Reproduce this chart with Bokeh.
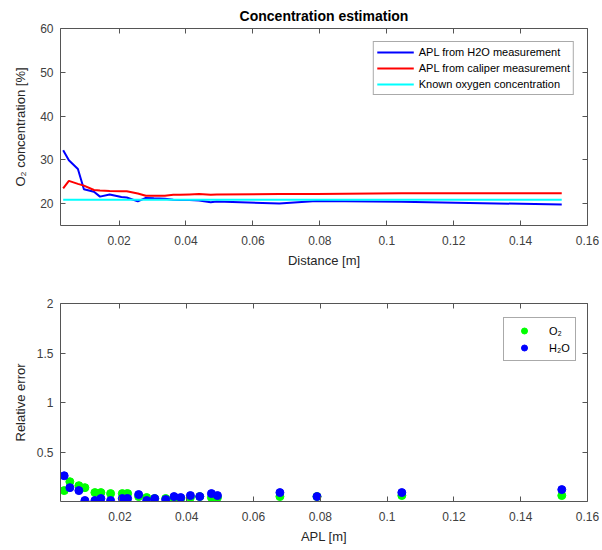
from bokeh.plotting import figure
from bokeh.layouts import column
from bokeh.models import LinearAxis, FixedTicker, Range1d, Legend, LegendItem, Title
from bokeh.embed import file_html
from bokeh.resources import INLINE

# ---------------- data ----------------
distance = [0.0033, 0.0050, 0.0077, 0.0095, 0.0125, 0.0143, 0.0172, 0.0207, 0.0223,
            0.0256, 0.0280, 0.0304, 0.0337, 0.0362, 0.0382, 0.0411, 0.0439, 0.0474,
            0.0492, 0.0679, 0.0790, 0.1044, 0.1523]
conc_h2o = [32.2, 29.9, 27.9, 23.3, 22.7, 21.6, 22.1, 21.5, 21.4,
            20.5, 21.3, 21.2, 21.1, 20.9, 20.8, 20.8, 20.7, 20.3,
            20.5, 20.0, 20.6, 20.4, 19.8]
conc_caliper = [23.5, 25.2, 24.5, 24.1, 23.1, 23.0, 22.9, 22.8, 22.8,
                22.3, 21.8, 21.8, 21.8, 22.0, 22.0, 22.1, 22.2, 22.0,
                22.1, 22.2, 22.2, 22.35, 22.35]
known_conc = [20.9] * len(distance)
err_o2 = [0.11, 0.20, 0.16, 0.14, 0.09, 0.09, 0.08, 0.08, 0.08,
          0.05, 0.04, 0.03, 0.03, 0.03, 0.03, 0.04, 0.05, 0.04,
          0.04, 0.05, 0.05, 0.06, 0.06]
err_h2o = [0.26, 0.14, 0.11, 0.01, 0.01, 0.03, 0.01, 0.03, 0.03,
           0.07, 0.01, 0.03, 0.02, 0.05, 0.04, 0.06, 0.05, 0.08,
           0.06, 0.09, 0.05, 0.09, 0.12]

x_ticks = [0.02, 0.04, 0.06, 0.08, 0.10, 0.12, 0.14, 0.16]
x_tick_labels = ["0.02", "0.04", "0.06", "0.08", "0.1", "0.12", "0.14", "0.16"]
top_y_ticks = [20, 30, 40, 50, 60]
bot_y_ticks = [0.5, 1.0, 1.5, 2.0]
bot_y_labels = ["0.5", "1", "1.5", "2"]

FONT = "Liberation Sans"
AXLINE = "#555555"
TXT = "#404040"


def style_axes(p, xt, xl, yt, yl, xlabel, ylabel, ylabel_standoff):
    xo = {t: l for t, l in zip(xt, xl)}
    yo = {t: l for t, l in zip(yt, yl)}
    bx = p.xaxis[0]
    ly = p.yaxis[0]
    bx.ticker = FixedTicker(ticks=xt)
    bx.major_label_overrides = xo
    ly.ticker = FixedTicker(ticks=yt)
    ly.major_label_overrides = yo
    bx.axis_label = xlabel
    ly.axis_label = ylabel
    # box axes (ticks only)
    right = LinearAxis(ticker=FixedTicker(ticks=yt), major_label_text_color=None)
    top = LinearAxis(ticker=FixedTicker(ticks=xt), major_label_text_color=None)
    p.add_layout(right, "right")
    p.add_layout(top, "above")
    for ax in [bx, ly, right, top]:
        ax.axis_line_color = AXLINE
        ax.axis_line_width = 1
        ax.major_tick_line_color = AXLINE
        ax.major_tick_in = 5
        ax.major_tick_out = 0
        ax.minor_tick_line_color = None
    right.major_label_standoff = 0
    top.major_label_standoff = 0
    for ax in [bx, ly]:
        ax.major_label_text_font = FONT
        ax.major_label_text_color = TXT
        ax.major_label_text_font_size = "12px"
        ax.axis_label_text_font = FONT
        ax.axis_label_text_font_style = "normal"
        ax.axis_label_text_color = "#262626"
        ax.axis_label_text_font_size = "13px"
    bx.major_label_standoff = 10
    bx.axis_label_standoff = 5
    ly.major_label_standoff = 7
    ly.axis_label_standoff = ylabel_standoff
    p.grid.visible = False
    p.outline_line_color = None


# ---------------- top plot ----------------
p1 = figure(width=602, height=275, output_backend="svg", toolbar_location=None,
            x_range=Range1d(0.0025, 0.16), y_range=Range1d(15, 60),
            min_border_left=60, min_border_right=15, min_border_top=27,
            min_border_bottom=50, background_fill_color="white",
            border_fill_color="white")
p1.title = Title(text="Concentration estimation", align="center",
                 text_font=FONT, text_font_size="14px", text_font_style="bold",
                 text_color="black", standoff=10)
r1 = p1.line(distance, conc_h2o, line_color="#0000ff", line_width=2)
r2 = p1.line(distance, conc_caliper, line_color="#ff0000", line_width=2)
r3 = p1.line([distance[0], distance[-1]], [known_conc[0], known_conc[-1]],
             line_color="#00ffff", line_width=2)
style_axes(p1, x_ticks, x_tick_labels, top_y_ticks, [str(t) for t in top_y_ticks],
           "Distance [m]", "O\u2082 concentration [%]", 9)
leg1 = Legend(items=[LegendItem(label="APL from H2O measurement", renderers=[r1]),
                     LegendItem(label="APL from caliper measurement", renderers=[r2]),
                     LegendItem(label="Known oxygen concentration", renderers=[r3])],
              location="top_right", margin=13, padding=3, spacing=2,
              glyph_width=37, glyph_height=14, label_height=14, label_standoff=5,
              label_text_font=FONT, label_text_font_size="11px", label_text_color="black",
              border_line_color="#555555", border_line_width=1,
              background_fill_color="white", background_fill_alpha=1)
p1.add_layout(leg1)

# ---------------- bottom plot ----------------
p2 = figure(width=602, height=275, output_backend="svg", toolbar_location=None,
            x_range=Range1d(0.0022, 0.16), y_range=Range1d(0, 2),
            min_border_left=59, min_border_right=15, min_border_top=28,
            min_border_bottom=49, background_fill_color="white",
            border_fill_color="white")
s1 = p2.scatter(distance, err_o2, size=8, fill_color="#00ff00", line_color="#00ff00")
s2 = p2.scatter(distance, err_h2o, size=8, fill_color="#0000ff", line_color="#0000ff")
style_axes(p2, x_ticks, x_tick_labels, bot_y_ticks, bot_y_labels,
           "APL [m]", "Relative error", 6)
leg2 = Legend(items=[LegendItem(label="O\u2082", renderers=[s1]),
                     LegendItem(label="H\u2082O", renderers=[s2])],
              location=(443, 140), padding=5, spacing=2,
              glyph_width=30, glyph_height=15, label_height=15, label_standoff=10,
              label_text_font=FONT, label_text_font_size="11px", label_text_color="black",
              border_line_color="#555555", border_line_width=1,
              background_fill_color="white", background_fill_alpha=1)
p2.add_layout(leg2)

layout = column(p1, p2)
open("out.html", "w").write(file_html(layout, INLINE))
